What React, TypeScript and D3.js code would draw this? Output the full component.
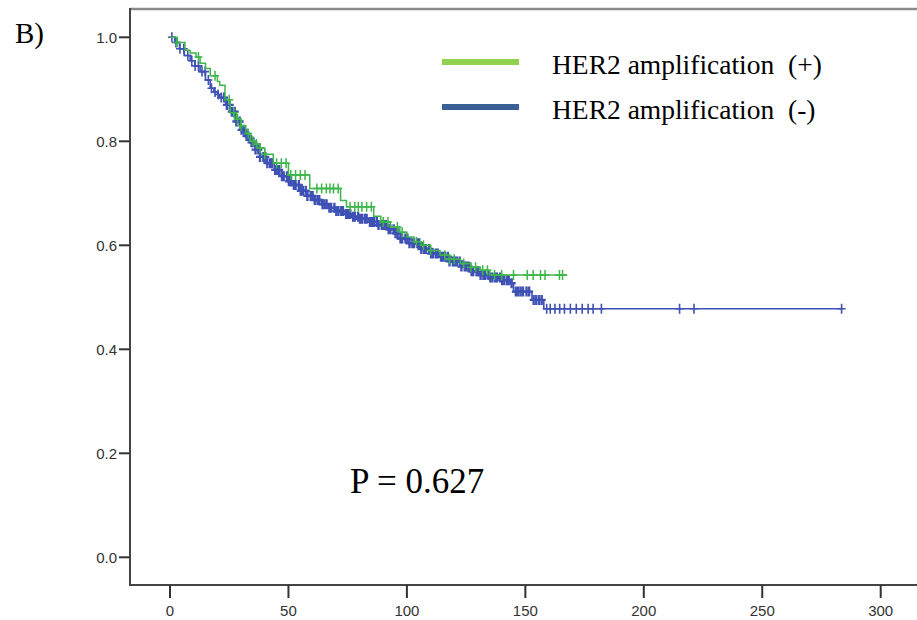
import React from "react";
import * as d3 from "d3";

// Kaplan-Meier step data
const blueTimes = [0, 2, 4, 6, 8.5, 10.5, 12.7, 15, 17, 18.5, 20, 21, 23.5, 25.4, 27.5, 29.6, 31.5, 33.8, 36, 38, 41, 44, 47, 50, 52, 55, 58, 61, 64, 67, 70, 74, 77, 80, 84, 88, 92, 95, 97.3, 101, 105.7, 110, 114, 118, 122.6, 127, 131, 135, 139.5, 143.7, 145, 152.8, 157.8];
const blueSurv = [1.0, 0.99, 0.978, 0.965, 0.955, 0.945, 0.934, 0.918, 0.902, 0.895, 0.89, 0.884, 0.87, 0.857, 0.838, 0.822, 0.81, 0.798, 0.784, 0.77, 0.758, 0.745, 0.733, 0.723, 0.716, 0.705, 0.695, 0.687, 0.679, 0.672, 0.666, 0.66, 0.655, 0.651, 0.645, 0.639, 0.631, 0.623, 0.613, 0.604, 0.593, 0.584, 0.578, 0.569, 0.559, 0.55, 0.543, 0.538, 0.533, 0.527, 0.511, 0.495, 0.478];
const blueEnd = 283.5;
const blueCensor = [0.8, 2.5, 4.2, 5.8, 7.5, 9.2, 10.6, 12, 13.5, 14.8, 16.2, 17.5, 19, 20.3, 21.6, 22.8, 24, 25.2, 26.1, 27.3, 28, 29.4, 30.2, 31.1, 32.3, 33, 34.4, 35.2, 36.1, 37.3, 38, 39.4, 40.2, 41.1, 42.3, 43, 44.4, 45.2, 46.1, 47.3, 48, 49.4, 50.2, 51.1, 52.3, 53, 54.4, 55.2, 56.1, 57.3, 58, 59.4, 60.2, 61.1, 62.3, 63, 64.4, 65.2, 66.1, 67.3, 68, 69.4, 70.2, 71.1, 72.3, 73, 74.4, 75.2, 76.1, 77.3, 78, 79.4, 80.2, 81.1, 82.3, 83, 84.4, 85.2, 86.1, 87.3, 88, 89.4, 90.2, 91.1, 92.3, 93, 94.4, 95.2, 96.1, 97.3, 98, 99.4, 100.2, 101.1, 102.3, 103, 104.4, 105.2, 106.1, 107.3, 108, 109.4, 110.2, 111.1, 112.3, 113, 114.4, 115.2, 116.1, 117.3, 118, 119.4, 120.2, 121.1, 122.3, 123, 124.4, 125.2, 126.1, 127.3, 128, 129.4, 130.2, 131.1, 132.3, 133, 134.4, 135.2, 136.1, 137.3, 138, 139.4, 140.2, 141.1, 142.3, 143, 144.2, 146, 147, 148, 149, 150.5, 151.6, 153.5, 154.6, 155.8, 156.9, 159, 160.5, 162.5, 164.5, 166.5, 169, 171.5, 174, 176.5, 178.6, 182.1, 215.1, 221.2, 283.5];

const greenTimes = [0, 3, 6.3, 8.5, 11, 12.7, 15, 17, 20, 21, 23.2, 25.4, 28, 30, 32, 34, 36, 38, 40, 43.6, 50, 59, 72, 74.5, 86, 89, 93, 97, 100, 103, 106, 110, 114, 118, 122.6, 127, 131, 135];
const greenSurv = [1.0, 0.99, 0.975, 0.97, 0.962, 0.95, 0.94, 0.926, 0.915, 0.908, 0.88, 0.855, 0.843, 0.83, 0.815, 0.8, 0.795, 0.787, 0.775, 0.758, 0.735, 0.709, 0.686, 0.674, 0.656, 0.645, 0.635, 0.625, 0.616, 0.607, 0.6, 0.59, 0.581, 0.573, 0.565, 0.558, 0.552, 0.543];
const greenEnd = 167.7;
const greenCensor = [3, 12, 19, 25, 27, 28.5, 30, 33, 35, 36.5, 38, 40, 45, 47, 49, 51, 53, 55, 57, 62, 64, 66, 67.5, 69, 71, 76, 78, 79.5, 81, 83, 85, 90, 92, 96, 98, 104, 107, 110, 116, 118, 120, 124, 127, 129, 132, 134, 137, 140, 145, 150.8, 153.3, 156.4, 158.3, 164.4, 165.7];

const xTicks = [0, 50, 100, 150, 200, 250, 300];
const yTicks = [0.0, 0.2, 0.4, 0.6, 0.8, 1.0];
const legendLabels = ["HER2 amplification  (+)", "HER2 amplification  (-)"];
const panelLabel = "B)";
const pLabel = "P = 0.627";

const W = 917;
const H = 620;

function survAt(times: number[], surv: number[], t: number) {
  let s = surv[0];
  for (let i = 0; i < times.length; i++) {
    if (times[i] <= t) s = surv[i];
  }
  return s;
}

export default function App() {
  const x = d3.scaleLinear().domain([0, 300]).range([170, 880.7]);
  const y = d3.scaleLinear().domain([0, 1]).range([557.3, 37.3]);

  const line = d3
    .line<[number, number]>()
    .x((d) => x(d[0]))
    .y((d) => y(d[1]))
    .curve(d3.curveStepAfter);

  const bluePts: [number, number][] = blueTimes.map((t, i) => [t, blueSurv[i]]);
  bluePts.push([blueEnd, blueSurv[blueSurv.length - 1]]);
  const greenPts: [number, number][] = greenTimes.map((t, i) => [t, greenSurv[i]]);
  greenPts.push([greenEnd, greenSurv[greenSurv.length - 1]]);

  const blueColor = "#3f51b5";
  const greenColor = "#3db54a";

  const cross = (cx: number, cy: number, color: string, key: string, sw: number, hw: number, hh: number) => (
    <path
      key={key}
      d={`M${cx - hw},${cy}H${cx + hw}M${cx},${cy - hh}V${cy + hh}`}
      stroke={color}
      strokeWidth={sw}
      fill="none"
    />
  );

  const tickFont = "'Liberation Sans', Arial, sans-serif";
  const serif = "'Liberation Serif', 'Times New Roman', serif";

  return (
    <svg
      width={W}
      height={H}
      style={{ position: "absolute", left: 0, top: 0, background: "#fff" }}
    >
      <rect x={0} y={0} width={W} height={H} fill="#fff" />
      {/* frame */}
      <line x1={130} y1={9} x2={W} y2={9} stroke="#8a8a8a" strokeWidth={2.5} />
      <line x1={130} y1={8} x2={130} y2={586} stroke="#444" strokeWidth={2} />
      <line x1={129} y1={585} x2={W} y2={585} stroke="#444" strokeWidth={2} />

      {/* y ticks */}
      {yTicks.map((v) => (
        <g key={"y" + v}>
          <line x1={119} x2={130} y1={y(v)} y2={y(v)} stroke="#333" strokeWidth={2} />
          <text x={117} y={y(v)} dy="0.36em" textAnchor="end" fontFamily={tickFont} fontSize={15} fill="#333">
            {v.toFixed(1)}
          </text>
        </g>
      ))}
      {/* x ticks */}
      {xTicks.map((v) => (
        <g key={"x" + v}>
          <line x1={x(v)} x2={x(v)} y1={585} y2={598} stroke="#333" strokeWidth={2} />
          <text x={x(v)} y={616} textAnchor="middle" fontFamily={tickFont} fontSize={15} fill="#333">
            {v}
          </text>
        </g>
      ))}

      {/* curves */}
      <path d={line(bluePts) || ""} fill="none" stroke={blueColor} strokeWidth={1.6} />
      {blueCensor.map((t, i) => {
        const dense = t > 22 && t < 158;
        return cross(
          x(t),
          y(survAt(blueTimes, blueSurv, t)),
          blueColor,
          "bc" + i,
          dense ? 2.4 : 1.6,
          4,
          dense ? 5 : 5
        );
      })}
      <path d={line(greenPts) || ""} fill="none" stroke={greenColor} strokeWidth={1.5} />
      {greenCensor.map((t, i) =>
        cross(x(t), y(survAt(greenTimes, greenSurv, t)), greenColor, "gc" + i, 1.5, 4, 5)
      )}

      {/* legend */}
      <line x1={442} x2={519} y1={62} y2={62} stroke="#92d050" strokeWidth={6} />
      <line x1={442} x2={519} y1={107} y2={107} stroke="#3a6095" strokeWidth={6} />
      <text x={552} y={73.5} fontFamily={serif} fontSize={27.5} fill="#000" style={{ whiteSpace: "pre" }}>
        {legendLabels[0]}
      </text>
      <text x={552} y={118.5} fontFamily={serif} fontSize={27.5} fill="#000" style={{ whiteSpace: "pre" }}>
        {legendLabels[1]}
      </text>

      {/* labels */}
      <text x={15} y={43} fontFamily={serif} fontSize={29} fill="#000">
        {panelLabel}
      </text>
      <text x={350} y={493} fontFamily={serif} fontSize={35} fill="#000">
        {pLabel}
      </text>
    </svg>
  );
}
